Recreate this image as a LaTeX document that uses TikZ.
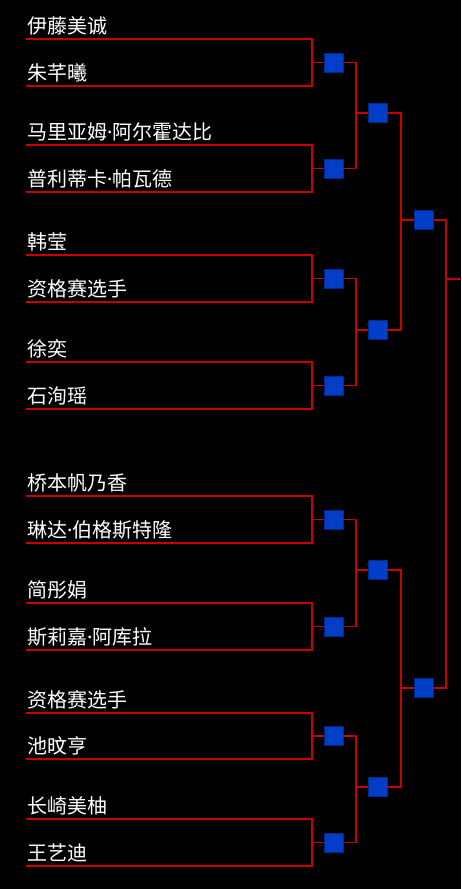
\documentclass[tikz,border=0pt]{standalone}
\usepackage{fontspec}
\setmainfont{Noto Sans CJK SC}
\newfontfamily\latinfont{Noto Sans}
\newcommand{\namedot}{{\latinfont ·}}
\usepackage{xcolor}
\usepackage{tikz}
\usetikzlibrary{positioning}
\definecolor{BracketRed}{RGB}{200,0,0}
\definecolor{BoxBlue}{RGB}{0,62,200}
\definecolor{BoxEdge}{RGB}{0,40,140}

\begin{document}
\begin{tikzpicture}[x=1pt, y=-1pt,
		player/.style={anchor=base west, inner sep=0pt, text=white, font=\fontsize{20}{20}\selectfont},
		match/.style={draw=BoxEdge, line width=0.6pt, fill=BoxBlue, minimum size=19pt, inner sep=0pt},
		link/.style={draw=BracketRed, line width=1.8pt}]
		\fill[black] (0,0) rectangle (461,889);
		\useasboundingbox (0,0) rectangle (461,889);

		% round 1 squares
		\node[match] (r1a) at (333.5, 62.5) {};
		\node[match] (r1b) at (333.5,168.5) {};
		\node[match] (r1c) at (333.5,278.5) {};
		\node[match] (r1d) at (333.5,385.5) {};
		\node[match] (r1e) at (333.5,519.5) {};
		\node[match] (r1f) at (333.5,626.5) {};
		\node[match] (r1g) at (333.5,736) {};
		\node[match] (r1h) at (333.5,842.5) {};
		% round 2, semis, end of bracket
		\node[match] (r2a) at (377.5,113) {};
		\node[match] (r2b) at (377.5,330) {};
		\node[match] (r2c) at (377.5,570) {};
		\node[match] (r2d) at (377.5,787) {};
		\node[match] (r3a) at (424,220) {};
		\node[match] (r3b) at (424,688) {};
		\coordinate (fin) at (461,279);

		% players: line start and name above it
		\coordinate (s1) at (26,39);   \node[player] (p1) at (27,33.8) {伊藤美诚};
		\coordinate (s2) at (26,86);   \node[player] (p2) at (27,80.8) {朱芊曦};
		\coordinate (s3) at (26,145);  \node[player] (p3) at (27,139.8) {马里亚姆\namedot 阿尔霍达比};
		\coordinate (s4) at (26,192);  \node[player] (p4) at (27,186.8) {普利蒂卡\namedot 帕瓦德};
		\coordinate (s5) at (26,255);  \node[player] (p5) at (27,249.8) {韩莹};
		\coordinate (s6) at (26,302);  \node[player] (p6) at (27,296.8) {资格赛选手};
		\coordinate (s7) at (26,362);  \node[player] (p7) at (27,356.8) {徐奕};
		\coordinate (s8) at (26,409);  \node[player] (p8) at (27,403.8) {石洵瑶};
		\coordinate (s9) at (26,496);  \node[player] (p9) at (27,490.8) {桥本帆乃香};
		\coordinate (s10) at (26,543); \node[player] (p10) at (27,537.8) {琳达\namedot 伯格斯特隆};
		\coordinate (s11) at (26,603); \node[player] (p11) at (27,597.8) {简彤娟};
		\coordinate (s12) at (26,650); \node[player] (p12) at (27,644.8) {斯莉嘉\namedot 阿库拉};
		\coordinate (s13) at (26,713); \node[player] (p13) at (27,707.8) {资格赛选手};
		\coordinate (s14) at (26,759); \node[player] (p14) at (27,753.8) {池旼亨};
		\coordinate (s15) at (26,819); \node[player] (p15) at (27,813.8) {长崎美柚};
		\coordinate (s16) at (26,866); \node[player] (p16) at (27,860.8) {王艺迪};

		% first round brackets
		\draw[link] (s1) -- ++(286,0) |- (r1a);
		\draw[link] (s2) -- ++(286,0) |- (r1a);
		\draw[link] (s3) -- ++(286,0) |- (r1b);
		\draw[link] (s4) -- ++(286,0) |- (r1b);
		\draw[link] (s5) -- ++(286,0) |- (r1c);
		\draw[link] (s6) -- ++(286,0) |- (r1c);
		\draw[link] (s7) -- ++(286,0) |- (r1d);
		\draw[link] (s8) -- ++(286,0) |- (r1d);
		\draw[link] (s9) -- ++(286,0) |- (r1e);
		\draw[link] (s10) -- ++(286,0) |- (r1e);
		\draw[link] (s11) -- ++(286,0) |- (r1f);
		\draw[link] (s12) -- ++(286,0) |- (r1f);
		\draw[link] (s13) -- ++(286,0) |- (r1g);
		\draw[link] (s14) -- ++(286,0) |- (r1g);
		\draw[link] (s15) -- ++(286,0) |- (r1h);
		\draw[link] (s16) -- ++(286,0) |- (r1h);

		% later rounds
		\draw[link] (r1a.east) -- ++(13,0) |- (r2a);
		\draw[link] (r1b.east) -- ++(13,0) |- (r2a);
		\draw[link] (r1c.east) -- ++(13,0) |- (r2b);
		\draw[link] (r1d.east) -- ++(13,0) |- (r2b);
		\draw[link] (r1e.east) -- ++(13,0) |- (r2c);
		\draw[link] (r1f.east) -- ++(13,0) |- (r2c);
		\draw[link] (r1g.east) -- ++(13,0) |- (r2d);
		\draw[link] (r1h.east) -- ++(13,0) |- (r2d);
		\draw[link] (r2a.east) -- ++(14,0) |- (r3a);
		\draw[link] (r2b.east) -- ++(14,0) |- (r3a);
		\draw[link] (r2c.east) -- ++(14,0) |- (r3b);
		\draw[link] (r2d.east) -- ++(14,0) |- (r3b);
		\draw[link] (r3a.east) -- ++(12.5,0) |- (fin);
		\draw[link] (r3b.east) -- ++(12.5,0) |- (fin);
	\end{tikzpicture}
\end{document}
